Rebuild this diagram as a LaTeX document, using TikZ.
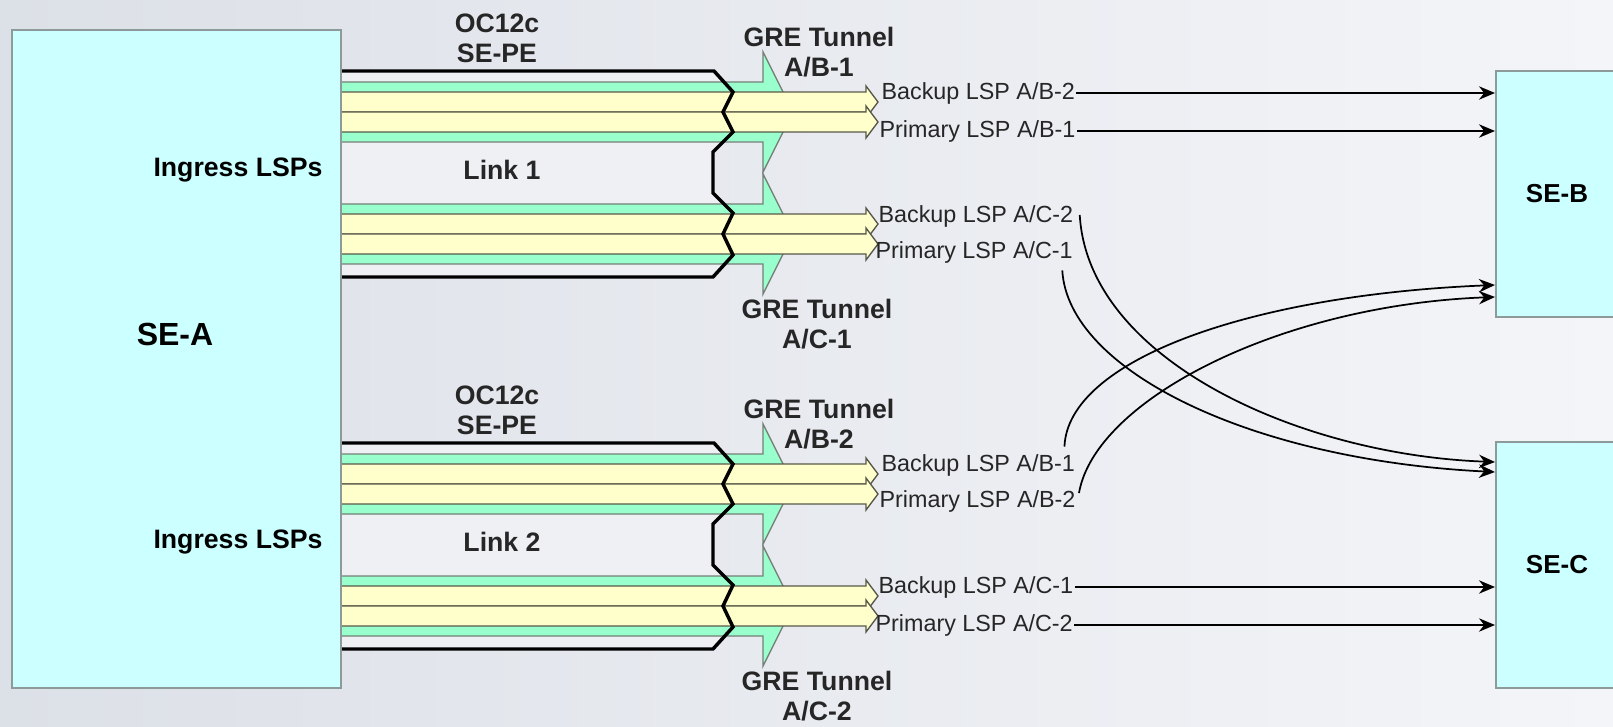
\documentclass[tikz,border=0pt]{standalone}
\usepackage{fontspec}
\setmainfont{Liberation Sans}
\usepackage{xcolor}
\usetikzlibrary{arrows.meta, positioning, calc}

\definecolor{nodecyan}{HTML}{CCFFFF}
\definecolor{nodeedge}{HTML}{8C9A9A}
\definecolor{grefill}{HTML}{99FFCC}
\definecolor{greedge}{HTML}{748078}
\definecolor{lspfill}{HTML}{FFFFCC}
\definecolor{lspedge}{HTML}{58584A}
\definecolor{pipefill}{HTML}{EEF0F4}
\definecolor{bgdark}{HTML}{DCE0E7}
\definecolor{bglight}{HTML}{F4F5F8}

\begin{document}
\begin{tikzpicture}[
  x=0.75pt, y=-0.75pt,
  sebox/.style={draw=nodeedge, line width=1.5pt, fill=nodecyan, inner sep=0pt,
                font=\fontsize{19.5}{22}\selectfont\bfseries},
  big/.style={font=\fontsize{20}{22.5}\selectfont\bfseries, text=black!85, align=center, inner sep=1pt},
  bigbf/.style={font=\fontsize{20}{22}\selectfont\bfseries, inner sep=1pt},
  lsplbl/.style={font=\fontsize{17.5}{19}\selectfont, text=black!85, anchor=west, inner sep=1pt},
  arr/.style={-{Stealth[length=12pt, width=10pt]}, line width=1.3pt},
  gre/.style={fill=grefill, draw=greedge, line width=1pt},
  lsp/.style={fill=lspfill, draw=lspedge, line width=1pt},
  pipe/.style={draw=black, line width=2.6pt},
]
  \useasboundingbox (0,0) rectangle (1613,727);
  \clip (0,0) rectangle (1613,727);
  \shade[left color=bgdark, right color=bglight] (0,0) rectangle (1613,727);

  % upper and lower link: pipe, GRE tunnels, LSP bands
  \foreach \dy in {0,372} {
    \begin{scope}[shift={(0,\dy)}]
      \fill[pipefill] (341,71) -- (714,71) -- (733,92) -- (723,112) -- (733,132) -- (713,152)
        -- (713,193) -- (733,213) -- (723,234) -- (733,255) -- (713,277) -- (341,277) -- cycle;
      \foreach \ctr in {112,234} {
        \draw[gre] (341,\ctr-30) -- (763,\ctr-30) -- (763,\ctr-60) -- (793,\ctr)
          -- (763,\ctr+60) -- (763,\ctr+30) -- (341,\ctr+30);
        \foreach \m in {-10,10}
          \draw[lsp] (341,\ctr+\m-10) -- (866,\ctr+\m-10) -- (866,\ctr+\m-16) -- (878,\ctr+\m)
            -- (866,\ctr+\m+16) -- (866,\ctr+\m+10) -- (341,\ctr+\m+10);
      }
      \draw[pipe] (341,71) -- (714,71) -- (733,92) -- (723,112) -- (733,132) -- (713,152)
        -- (713,193) -- (733,213) -- (723,234) -- (733,255) -- (713,277) -- (341,277);
    \end{scope}
  }

  \node[sebox, minimum width=246.75pt, minimum height=493.5pt] (sea) at (176.5,359) {};
  \node[font=\fontsize{24}{26}\selectfont\bfseries] (sealbl) at (175,334) {SE-A};
  \node[bigbf] (ingr1) at (238,170) {Ingress LSPs};
  \node[bigbf] (ingr2) at (238,542) {Ingress LSPs};

  \node[big] (oc1)    at (497,38)  {OC12c\\SE-PE};
  \node[big] (oc2)    at (497,410) {OC12c\\SE-PE};
  \node[big] (link1)  at (502,170) {Link 1};
  \node[big] (link2)  at (502,542) {Link 2};
  \node[big] (greab1) at (819,52)  {GRE Tunnel\\A/B-1};
  \node[big] (greac1) at (817,324) {GRE Tunnel\\A/C-1};
  \node[big] (greab2) at (819,424) {GRE Tunnel\\A/B-2};
  \node[big] (greac2) at (817,696) {GRE Tunnel\\A/C-2};

  \node[sebox, minimum width=91.5pt, minimum height=184.5pt] (seb) at (1557,194) {SE-B};
  \node[sebox, minimum width=91.5pt, minimum height=184.5pt] (sec) at (1557,565) {SE-C};

  \node[lsplbl] (bkab2) at (880,93)  {Backup LSP A/B-2};
  \node[lsplbl] (prab1) at (878,131) {Primary LSP A/B-1};
  \node[lsplbl] (bkac2) at (877,216) {Backup LSP A/C-2};
  \node[lsplbl] (prac1) at (874,252) {Primary LSP A/C-1};
  \node[lsplbl] (bkab1) at (880,465) {Backup LSP A/B-1};
  \node[lsplbl] (prab2) at (878,501) {Primary LSP A/B-2};
  \node[lsplbl] (bkac1) at (877,587) {Backup LSP A/C-1};
  \node[lsplbl] (prac2) at (874,625) {Primary LSP A/C-2};

  \draw[arr] (bkab2) -- (bkab2 -| seb.west);
  \draw[arr] (prab1) -- (prab1 -| seb.west);
  \draw[arr] (bkac1) -- (bkac1 -| sec.west);
  \draw[arr] (prac2) -- (prac2 -| sec.west);
  \draw[arr] ($(bkac2.east)+(5,-1)$) .. controls (1088,360) and (1300,455) .. ($(sec.west)+(0,-103)$);
  \draw[arr] ($(prac1.south east)+(-12,6)$) .. controls (1068,370) and (1250,460) .. ($(sec.west)+(0,-93)$);
  \draw[arr] ($(bkab1.north east)+(-12,-6)$) .. controls (1068,360) and (1250,295) .. ($(seb.west)+(0,91)$);
  \draw[arr] ($(prab2.east)+(2,-8)$) .. controls (1095,400) and (1280,305) .. ($(seb.west)+(0,103)$);
\end{tikzpicture}
\end{document}
